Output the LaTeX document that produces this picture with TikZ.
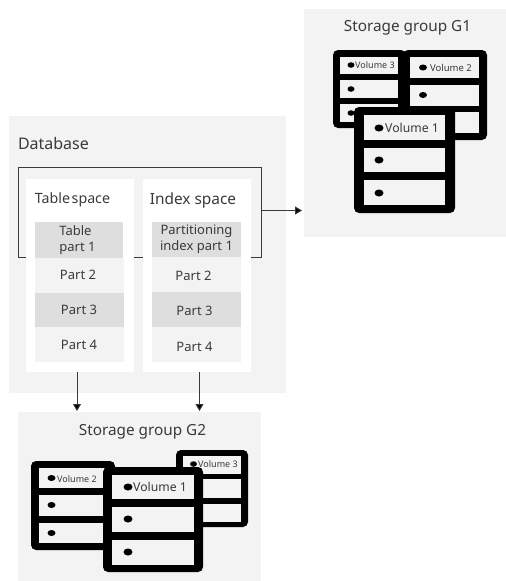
\documentclass[tikz,border=0pt]{standalone}
\usepackage{fontspec}
\setmainfont{Noto Sans}
\usetikzlibrary{arrows.meta,shapes.geometric}
\definecolor{panel}{HTML}{F3F3F3}
\definecolor{shade}{HTML}{DEDEDE}
\definecolor{ink}{HTML}{3A3A3A}
\newcommand{\bx}[6]{% name,x1,y1,x2,y2,style
  \pgfmathsetmacro{\bw}{#4-#2}\pgfmathsetmacro{\bh}{#5-#3}
  \node[#6,anchor=north west,minimum width=\bw pt,minimum height=\bh pt] (#1) at (#2,#3) {};}
\newcommand{\dotn}[5]{\node[voldot,minimum width=#4pt,minimum height=#5pt] (#1) at (#2,#3) {};}
\newcommand{\lab}[5]{\node[textlab,font=\fontsize{#4}{#4}\selectfont] (#1) at (#2,#3) {#5};}
\tikzset{
  x=1pt,y=-1pt,
  plain/.style={inner sep=0,outer sep=0,draw=none,rectangle},
  panelbox/.style={plain,fill=panel},
  whitebox/.style={plain,fill=white},
  dark/.style={plain,fill=shade},
  light/.style={plain,fill=panel},
  volbody/.style={plain,fill=black,rounded corners=5pt},
  cell/.style={plain,fill=panel},
  voldot/.style={ellipse,fill=black,inner sep=0,outer sep=0},
  textlab/.style={inner sep=0,outer sep=0,text=ink,align=center},
  link/.style={draw=ink,line width=0.9pt,-{Triangle[length=7pt,width=8pt,fill=black]}},
}
\begin{document}
\begin{tikzpicture}
\useasboundingbox (0,0) rectangle (506,581);
\fill[white] (0,0) rectangle (506,581);

% Storage group G1
\bx{gone}{304}{9}{506}{237}{panelbox}
\lab{gonet}{407.5}{28}{15.3}{Storage group G1}
\bx{aB}{333}{50}{406}{128}{volbody}
\bx{aBa}{340}{57}{398}{74}{cell}
\bx{aBb}{340}{80}{398}{98}{cell}
\bx{aBc}{340}{104}{398}{122}{cell}
\dotn{aBd}{351}{65}{7}{5.5}\dotn{aBe}{351}{89}{7}{5.5}\dotn{aBf}{351}{113}{7}{5.5}
\lab{aBt}{375}{65.5}{9}{Volume 3}
\bx{aC}{403}{50}{487}{140}{volbody}
\bx{aCa}{410}{57}{479}{78}{cell}
\bx{aCb}{410}{85}{479}{106}{cell}
\bx{aCc}{410}{112}{479}{133}{cell}
\dotn{aCd}{423}{67.5}{8}{6}\dotn{aCe}{423}{95}{8}{6}
\lab{aCt}{451}{67.5}{9.5}{Volume 2}
\bx{aA}{354}{107}{455}{213}{volbody}
\bx{aAa}{364}{115}{445}{140}{cell}
\bx{aAb}{364}{148}{445}{172}{cell}
\bx{aAc}{364}{180}{445}{205}{cell}
\dotn{aAd}{379}{128}{9}{7}\dotn{aAe}{379}{160}{9}{7}\dotn{aAf}{379}{193}{9}{7}
\lab{aAt}{412}{128}{12.2}{Volume 1}

% Database
\bx{db}{9}{116}{286}{393}{panelbox}
\node[textlab,anchor=west,font=\fontsize{16}{16}\selectfont] (dbt) at (18,143) {Database};
\bx{frame}{18}{167}{261}{257}{plain,draw=ink,line width=0.8pt,fill=none}
\bx{tspace}{26}{179}{134}{372}{whitebox}
\bx{xspace}{143}{179}{251}{372}{whitebox}
\lab{tst}{72.5}{200}{14.2}{Table\kern-2pt\ space}
\lab{xst}{193}{200}{15.4}{Index space}
\bx{tpa}{35}{222}{123}{258}{dark}
\bx{tpb}{35}{258}{124}{293}{light}
\bx{tpc}{35}{293}{124}{327}{dark}
\bx{tpd}{35}{327}{124}{362}{light}
\bx{xpa}{152}{222}{241}{257}{dark}
\bx{xpb}{152}{257}{241}{292}{light}
\bx{xpc}{152}{292}{241}{327}{dark}
\bx{xpd}{152}{327}{241}{362}{light}
\node[textlab,font=\fontsize{13}{16.5}\selectfont,align=left] (tAt) at (77.5,240) {Table\\part 1};
\lab{tBt}{78}{275}{13}{Part 2}
\lab{tCt}{79}{309.5}{13}{Part 3}
\lab{tDt}{79}{345}{13}{Part 4}
\node[textlab,font=\fontsize{13}{15.5}\selectfont] (xAt) at (196.5,239.5) {Partitioning\\index part 1};
\lab{xBt}{193.5}{276}{13}{Part 2}
\lab{xCt}{194.5}{310.5}{13}{Part 3}
\lab{xDt}{194.5}{347}{13}{Part 4}

% Storage group G2
\bx{gtwo}{18}{412}{261}{581}{panelbox}
\lab{gtwot}{142.5}{432}{15.3}{Storage group G2}
\bx{bB}{31}{461}{115}{550}{volbody}
\bx{bBa}{39}{468}{112}{488}{cell}
\bx{bBb}{39}{495}{112}{516}{cell}
\bx{bBc}{39}{523}{112}{543}{cell}
\dotn{bBd}{51.5}{478}{8}{6}\dotn{bBe}{51.5}{505}{8}{6}\dotn{bBf}{51.5}{533}{8}{6}
\lab{bBt}{77}{479}{9}{Volume 2}
\bx{bC}{176}{450}{248}{527}{volbody}
\bx{bCa}{183}{456}{241}{474}{cell}
\bx{bCb}{183}{479}{241}{498}{cell}
\bx{bCc}{183}{504}{241}{522}{cell}
\dotn{bCd}{193.5}{464}{7}{5.5}
\lab{bCt}{218}{464.5}{9}{Volume 3}
\bx{bA}{103}{467}{203}{572}{volbody}
\bx{bAa}{112}{475}{194}{499}{cell}
\bx{bAb}{112}{507}{194}{532}{cell}
\bx{bAc}{112}{540}{194}{565}{cell}
\dotn{bAd}{128}{487}{9}{7}\dotn{bAe}{128}{519}{9}{7}\dotn{bAf}{128}{552}{9}{7}
\lab{bAt}{160}{487}{12.2}{Volume 1}

% Connectors
\coordinate (tsout) at (77,372);
\coordinate (tsin) at (77,411);
\coordinate (isout) at (199.5,372);
\coordinate (isin) at (199.5,411);
\coordinate (frout) at (261,210.5);
\coordinate (frin) at (302,210.5);
\draw[link] (tsout) -- (tsin);
\draw[link] (isout) -- (isin);
\draw[link] (frout) -- (frin);
\end{tikzpicture}
\end{document}
